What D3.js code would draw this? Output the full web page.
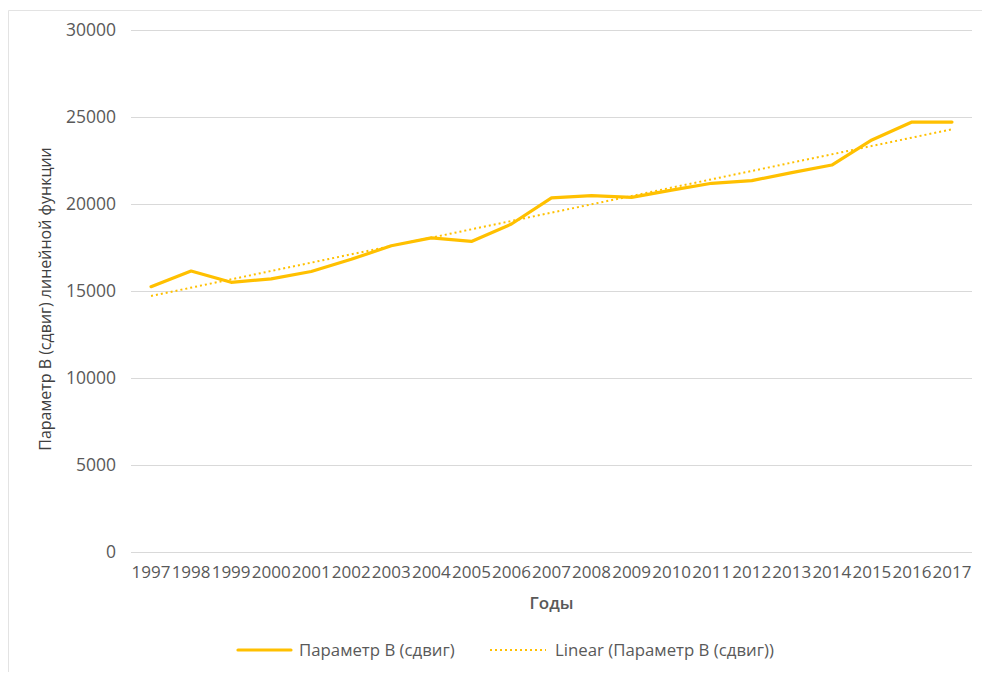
<!DOCTYPE html>
<html>
<head>
<meta charset="utf-8">
<script src="https://cdn.jsdelivr.net/npm/d3@7"></script>
<style>
  html, body { margin: 0; padding: 0; background: #fff; }
  svg { display: block; }
  text { font-family: "Open Sans", "Noto Sans", sans-serif; }
</style>
</head>
<body>
<svg id="chart" width="982" height="673"></svg>
<script>
const years = ["1997","1998","1999","2000","2001","2002","2003","2004","2005","2006","2007",
               "2008","2009","2010","2011","2012","2013","2014","2015","2016","2017"];
const values = [15250, 16150, 15500, 15700, 16120, 16820, 17600, 18050, 17850, 18850, 20350,
                20480, 20380, 20800, 21190, 21340, 21800, 22240, 23680, 24710, 24710];
const yTicks = [0, 5000, 10000, 15000, 20000, 25000, 30000];
const seriesName = "Параметр B (сдвиг)";
const trendName = "Linear (Параметр B (сдвиг))";
const xTitle = "Годы";
const yTitle = "Параметр B (сдвиг) линейной функции";

const lineColor = "#FFC000";
const textColor = "#595959";
const gridColor = "#d9d9d9";

const svg = d3.select("#chart");
const margin = {left: 131, right: 10, top: 30, bottom: 121};
const plotW = 972 - margin.left, plotH = 552 - margin.top;

// outer frame
svg.append("path")
  .attr("d", `M8.5,672 L8.5,10.5 L982,10.5`)
  .attr("fill", "none").attr("stroke", "#e3e3e3").attr("stroke-width", 1);

const g = svg.append("g").attr("transform", `translate(${margin.left},${margin.top})`);

const x = d3.scaleBand().domain(years).range([0, plotW]).paddingInner(0).paddingOuter(0);
const y = d3.scaleLinear().domain([0, 30000]).range([plotH, 0]);
const cx = d => x(d) + x.bandwidth() / 2;

// gridlines + y labels
const yAxis = d3.axisLeft(y).tickValues(yTicks).tickSize(-plotW).tickPadding(16).tickFormat(d3.format("d"));
const ya = g.append("g").call(yAxis);
ya.select(".domain").remove();
ya.selectAll(".tick line").attr("stroke", gridColor).attr("stroke-width", 1.2);
ya.selectAll(".tick text").attr("fill", textColor).attr("font-size", "17.5px").attr("x", -15);

// x axis labels
const xAxis = d3.axisBottom(x).tickSize(0).tickPadding(14);
const xa = g.append("g").attr("transform", `translate(0,${plotH})`).call(xAxis);
xa.select(".domain").remove();
xa.selectAll(".tick text").attr("fill", textColor).attr("font-size", "17px");

// trend line (least squares of the data)
const idx = values.map((v, i) => i);
const n = values.length;
const mx = d3.mean(idx), my = d3.mean(values);
const slope = d3.sum(idx, i => (i - mx) * (values[i] - my)) / d3.sum(idx, i => (i - mx) * (i - mx));
const icpt = my - slope * mx;
const trend = [0, n - 1].map(i => ({year: years[i], v: icpt + slope * i}));

g.append("path")
  .datum(trend)
  .attr("fill", "none")
  .attr("stroke", lineColor)
  .attr("stroke-width", 2)
  .attr("stroke-dasharray", "2,3")
  .attr("d", d3.line().x(d => cx(d.year)).y(d => y(d.v)));

// main line
g.append("path")
  .datum(values)
  .attr("fill", "none")
  .attr("stroke", lineColor)
  .attr("stroke-width", 3.2)
  .attr("stroke-linejoin", "round")
  .attr("stroke-linecap", "round")
  .attr("d", d3.line().x((d, i) => cx(years[i])).y(d => y(d)));

// axis titles
svg.append("text")
  .attr("x", (margin.left + 972) / 2).attr("y", 609)
  .attr("text-anchor", "middle")
  .attr("fill", textColor).attr("font-size", "17px").attr("font-weight", 600)
  .text(xTitle);

svg.append("text")
  .attr("transform", `translate(51,299) rotate(-90)`)
  .attr("text-anchor", "middle")
  .attr("fill", "#404040").attr("font-size", "16px")
  .text(yTitle);

// legend
const leg = svg.append("g").attr("transform", "translate(0,650)");
leg.append("line").attr("x1", 238).attr("x2", 291).attr("y1", 0).attr("y2", 0)
  .attr("stroke", lineColor).attr("stroke-width", 3.2).attr("stroke-linecap", "round");
leg.append("text").attr("x", 299).attr("y", 6).attr("fill", textColor).attr("font-size", "16.8px").text(seriesName);
leg.append("line").attr("x1", 490).attr("x2", 546).attr("y1", 0).attr("y2", 0)
  .attr("stroke", lineColor).attr("stroke-width", 2).attr("stroke-dasharray", "2,3");
leg.append("text").attr("x", 555).attr("y", 6).attr("fill", textColor).attr("font-size", "16.8px").text(trendName);
</script>
</body>
</html>
